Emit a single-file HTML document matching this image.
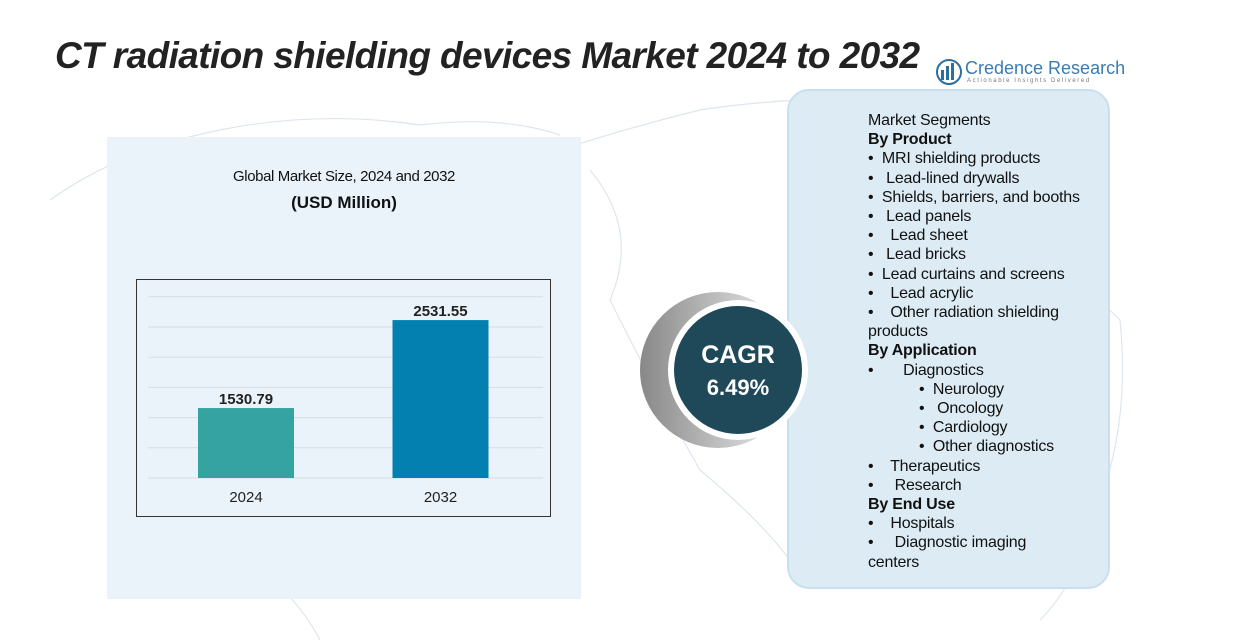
<!DOCTYPE html>
<html><head><meta charset="utf-8">
<style>
body{margin:0;width:1235px;height:642px;background:#fff;position:relative;overflow:hidden;font-family:"Liberation Sans",sans-serif;}
.abs{position:absolute;}
#title{left:55px;top:36px;font-size:37px;font-weight:bold;font-style:italic;color:#222;letter-spacing:-0.6px;white-space:nowrap;line-height:40px;}
#leftpanel{left:107px;top:137px;width:474px;height:462px;background:#eaf3fa;}
#seg{left:787px;top:89px;width:323px;height:500px;background:#dcebf4;border:2px solid #c9dfee;border-radius:22px;box-sizing:border-box;}
#seglist{left:868px;top:111px;font-size:16px;line-height:19.2px;color:#111;white-space:pre;letter-spacing:-0.2px;}
#seglist b{font-weight:bold;}
</style></head><body>
<svg class="abs" style="left:0;top:0" width="1235" height="642">
 <g fill="none" stroke="#dde6ee" stroke-width="1.2">
  <path d="M50 200 Q120 150 220 130 Q320 110 420 125 Q500 115 560 135"/>
  <path d="M560 150 Q620 130 700 110 Q800 95 900 100 Q1000 110 1100 130"/>
  <path d="M590 170 Q640 230 610 300 Q660 400 700 470 Q760 520 790 560"/>
  <path d="M960 220 Q1060 260 1120 320 Q1130 420 1100 500 Q1080 580 1040 620"/>
  <path d="M250 560 Q300 600 320 640"/>
 </g>
</svg>
<div id="title" class="abs">CT radiation shielding devices Market 2024 to 2032</div>
<div class="abs" style="left:935px;top:58px;">
 <svg width="28" height="28" style="position:absolute;left:0;top:0"><circle cx="14" cy="14" r="12" fill="none" stroke="#2a6f9e" stroke-width="2"/><rect x="6" y="12" width="3" height="10" fill="#2a6f9e"/><rect x="11" y="8" width="3" height="14" fill="#2a6f9e"/><rect x="16" y="5" width="3" height="17" fill="#2a6f9e"/></svg>
 <div style="position:absolute;left:30px;top:0;font-size:18px;color:#3a7bb0;white-space:nowrap;">Credence Research</div>
 <div style="position:absolute;left:32px;top:20px;font-size:6px;color:#777;letter-spacing:1.6px;white-space:nowrap;">Actionable Insights Delivered</div>
</div>
<div id="leftpanel" class="abs"></div>
<div class="abs" style="left:107px;top:168px;width:474px;text-align:center;font-size:15px;color:#111;letter-spacing:-0.4px">Global Market Size, 2024 and 2032</div>
<div class="abs" style="left:107px;top:193px;width:474px;text-align:center;font-size:17px;font-weight:bold;color:#111">(USD Million)</div>
<svg id="chart" class="abs" style="left:0;top:0" width="1235" height="642"></svg>
<div id="seg" class="abs"></div>
<div id="seglist" class="abs">Market Segments
<b>By Product</b>
•  MRI shielding products
•   Lead-lined drywalls
•  Shields, barriers, and booths
•   Lead panels
•    Lead sheet
•   Lead bricks
•  Lead curtains and screens
•    Lead acrylic
•    Other radiation shielding
products
<b>By Application</b>
•       Diagnostics
            •  Neurology
            •   Oncology
            •  Cardiology
            •  Other diagnostics
•    Therapeutics
•     Research
<b>By End Use</b>
•    Hospitals
•     Diagnostic imaging
centers</div>
<svg class="abs" style="left:630px;top:285px" width="180" height="170">
 <defs><linearGradient id="g" x1="0" x2="1"><stop offset="0" stop-color="#888"/><stop offset="1" stop-color="#f4f4f4"/></linearGradient></defs>
 <circle cx="88" cy="85" r="78" fill="url(#g)"/>
 <circle cx="108" cy="85" r="70" fill="#fff"/>
 <circle cx="108" cy="85" r="64" fill="#1f4959"/>
 <text x="108" y="78" text-anchor="middle" font-size="25" font-weight="bold" fill="#fff" font-family="Liberation Sans">CAGR</text>
 <text x="108" y="110" text-anchor="middle" font-size="22" font-weight="bold" fill="#fff" font-family="Liberation Sans">6.49%</text>
</svg>
<script>
const categories=["2024","2032"];
const values=[1530.79,2531.55];
const valueLabels=["1530.79","2531.55"];
const svg=document.getElementById('chart');
const NS="http://www.w3.org/2000/svg";
const base=478, vMin=735, pxPerUnit=0.0879;
function y(v){return base-(v-vMin)*pxPerUnit;}
function x(i){return 198+i*194.5;}
const bw=96, colors=["#35a3a2","#0380b0"];
function mk(t,a){const e=document.createElementNS(NS,t);for(const k in a)e.setAttribute(k,a[k]);svg.appendChild(e);return e;}
const frame=mk('rect',{x:136.5,y:279.5,width:414,height:237,fill:'none',stroke:'#333','stroke-width':1});


for(let k=0;k<7;k++){const g=mk('line',{x1:148,x2:543,y1:base-k*30.2,y2:base-k*30.2,stroke:'#d6dde3','stroke-width':1});

}
values.forEach((v,i)=>{
 const r=mk('rect',{x:x(i),y:y(v),width:bw,height:base-y(v),fill:colors[i]});
 
 
 const t=mk('text',{x:x(i)+bw/2,y:y(v)-4,'text-anchor':'middle','font-size':15,'font-weight':'bold',fill:'#222','font-family':'Liberation Sans'});
 t.textContent=valueLabels[i];
 
 
 const c=mk('text',{x:x(i)+bw/2,y:502,'text-anchor':'middle','font-size':15,fill:'#222','font-family':'Liberation Sans'});
 c.textContent=categories[i];
 
 
});
</script>
</body></html>
